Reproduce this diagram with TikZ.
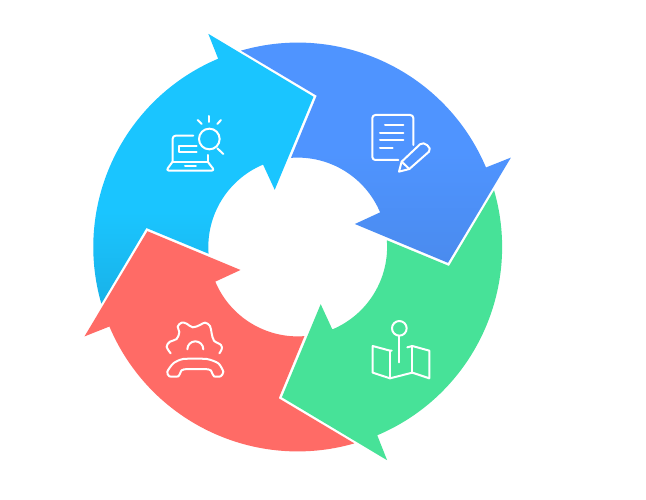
\documentclass[tikz,border=0pt]{standalone}
\definecolor{cBlue}{HTML}{4F94FF}
\definecolor{cBlueD}{HTML}{4A8BEE}
\definecolor{cCyan}{HTML}{1AC5FF}
\definecolor{cCyanD}{HTML}{19B2E8}
\definecolor{cGreen}{HTML}{47E298}
\definecolor{cRed}{HTML}{FF6B66}
\pgfdeclareverticalshading{blueShade}{100bp}{color(0bp)=(cBlueD); color(25bp)=(cBlueD); color(48bp)=(cBlue); color(100bp)=(cBlue)}
\pgfdeclareverticalshading{cyanShade}{100bp}{color(0bp)=(cCyanD); color(25bp)=(cCyanD); color(42bp)=(cCyan); color(100bp)=(cCyan)}
\newcommand\ArrowPath[1]{({#1-106.1}:204.4) arc[start angle={#1-106.1},end angle={#1-22.9},radius=204.4]
 -- ({#1-22.75}:231.2) -- ({#1+6}:151.1) -- ({#1-21.9}:61.65) -- ({#1-22.8}:89.4)
 arc[start angle={#1-22.8},end angle={#1-94.3},radius=89.4] -- ({#1-82.83}:152.5) -- cycle}
\tikzset{
  icon/.style={draw=white,line width=2pt,line cap=round,line join=round,x=0.3333pt,y=-0.3333pt},
}
\begin{document}
\begin{tikzpicture}[x=1pt,y=-1pt]
\useasboundingbox (0,0) rectangle (646,500);
\fill[white] (0,0) rectangle (646,500);
\begin{scope}[shift={(297.7pt,-247pt)}]
\shade[shading=blueShade] \ArrowPath{0};
\fill[cGreen] \ArrowPath{90};
\fill[cRed] \ArrowPath{180};
\shade[shading=cyanShade] \ArrowPath{270};
\end{scope}
% laptop and magnifier
\begin{scope}[shift={(140pt,-100pt)},icon]
\draw[rounded corners=3pt] (160,107) -- (98,107) -- (98,185);
\draw (98,185) -- (203,185) -- (203,165);
\draw[rounded corners=3pt] (98,185) -- (78,212) -- (224,212) -- (203,185);
\draw (135,197) -- (168,197);
\draw (170,138) -- (118,138) -- (118,155) -- (170,155);
\draw (208,117) circle[radius=31];
\draw (232,145) -- (250,162);
\draw (208,48) -- (208,66);
\draw (173,60) -- (185,72);
\draw (243,60) -- (232,72);
\end{scope}
% document and pencil
\begin{scope}[shift={(350pt,-100pt)},icon]
\draw[rounded corners=3pt] (145,180) -- (67,180) -- (67,45) -- (190,45) -- (190,135);
\draw (105,75) -- (160,75);
\draw (90,98) -- (160,98);
\draw (90,120) -- (160,120);
\draw (90,143) -- (128,143);
\draw (147,215) -- (155,185) -- (210,133) .. controls (222,121) and (248,145) .. (237,155) -- (178,207) -- cycle;
\draw (155,185) -- (178,207);
\end{scope}
% map and pin
\begin{scope}[shift={(350pt,-310pt)},icon]
\draw (148,55) circle[radius=22];
\draw (148,77) -- (148,157);
\draw (125,122) -- (120,122) -- (68,108) -- (68,188) -- (120,205) -- (187,188) -- (238,205) -- (238,122) -- (187,108) -- (172,112);
\draw (120,122) -- (120,205);
\draw (187,108) -- (187,188);
\end{scope}
% gear and phone
\begin{scope}[shift={(150pt,-310pt)},icon]
\draw plot[smooth,tension=0.6] coordinates {(62,130) (50,110) (60,95) (80,87) (88,66) (83,50) (95,38) (110,41) (128,52) (150,45) (165,38) (180,48) (185,70) (192,92) (213,105) (215,118) (208,130)};
\draw (112,118) arc[start angle=180,end angle=360,radius=24];
\draw plot[smooth cycle,tension=0.4] coordinates {(52,185) (58,199) (85,199) (92,186) (102,178) (175,178) (185,186) (192,199) (212,199) (220,185) (205,160) (170,147) (100,147) (70,160)};
\end{scope}
\end{tikzpicture}
\end{document}
